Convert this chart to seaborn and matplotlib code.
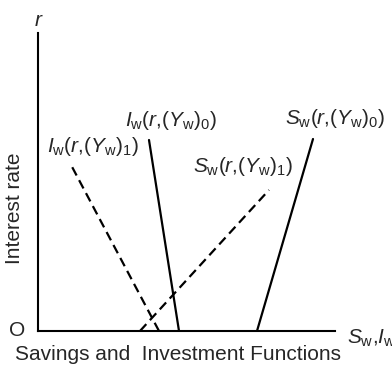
import matplotlib
matplotlib.use('Agg')
import matplotlib.pyplot as plt
import pandas as pd
import seaborn as sns

sns.set_style('white')
plt.rcParams['font.family'] = ['Liberation Sans', 'DejaVu Sans']
plt.rcParams['mathtext.fontset'] = 'custom'
plt.rcParams['mathtext.rm'] = 'Liberation Sans'
plt.rcParams['mathtext.it'] = 'Liberation Sans:italic'

# schedule end points (quantity, interest rate)
curves = ['I0', 'I1', 'S0', 'S1']
kinds = ['solid', 'dashed', 'solid', 'dashed']
q_top = [11.1, 3.2, 27.5, 23.1]
r_top = [19.1, 16.8, 19.2, 14.1]
q_bottom = [14.1, 12.1, 21.9, 10.2]
r_bottom = [0.0, 0.0, 0.0, 0.0]
labels = [r'$I_\mathrm{w}(r{,}(Y_\mathrm{w})_0)$', r'$I_\mathrm{w}(r{,}(Y_\mathrm{w})_1)$',
          r'$S_\mathrm{w}(r{,}(Y_\mathrm{w})_0)$', r'$S_\mathrm{w}(r{,}(Y_\mathrm{w})_1)$']

# bottom point first so the dash pattern starts at the quantity axis
rows = []
for c, k, x0, y0, x1, y1 in zip(curves, kinds, q_top, r_top, q_bottom, r_bottom):
    rows.append({'curve': c, 'kind': k, 'q': x1, 'r': y1})
    rows.append({'curve': c, 'kind': k, 'q': x0, 'r': y0})
df = pd.DataFrame(rows)

fig = plt.figure(figsize=(3.92, 3.69), dpi=100)
ax = fig.add_axes([38/392, 38/369, 297/392, 298/369])

sns.lineplot(data=df, x='q', y='r', units='curve', style='kind', estimator=None, sort=False,
             dashes={'solid': '', 'dashed': (4.2, 2.4)}, color='black', linewidth=1.6,
             legend=False, ax=ax)

ax.set_xlim(0, 29.7)
ax.set_ylim(0, 29.8)
ax.set_xticks([])
ax.set_yticks([])
ax.set_xlabel('')
ax.set_ylabel('')
for s in ['top', 'right']:
    ax.spines[s].set_visible(False)
for s in ['left', 'bottom']:
    ax.spines[s].set_color('black')
    ax.spines[s].set_linewidth(1.5)

fs = 15
# curve labels
label_pos = [(8.7, 21.1), (0.9, 18.4), (24.7, 21.3), (15.5, 16.5)]
for lab, (x, y) in zip(labels, label_pos):
    ax.text(x, y, lab, fontsize=fs, ha='left', va='center', clip_on=False)

ax.text(0.1, 31.1, r'$r$', fontsize=fs, ha='center', va='center', clip_on=False)
ax.text(-2.3, 12.3, 'Interest rate', fontsize=fs, rotation=90, ha='center', va='center', clip_on=False)
ax.text(-2.05, 0, 'O', fontsize=fs, ha='center', va='center', clip_on=False)
ax.text(30.9, -0.7, r'$S_\mathrm{w}{,}I_\mathrm{w}$', fontsize=fs, ha='left', va='center', clip_on=False)
ax.text(14.0, -2.4, 'Savings and  Investment Functions', fontsize=fs, ha='center', va='center', clip_on=False)

fig.savefig('out.png', dpi=100)
